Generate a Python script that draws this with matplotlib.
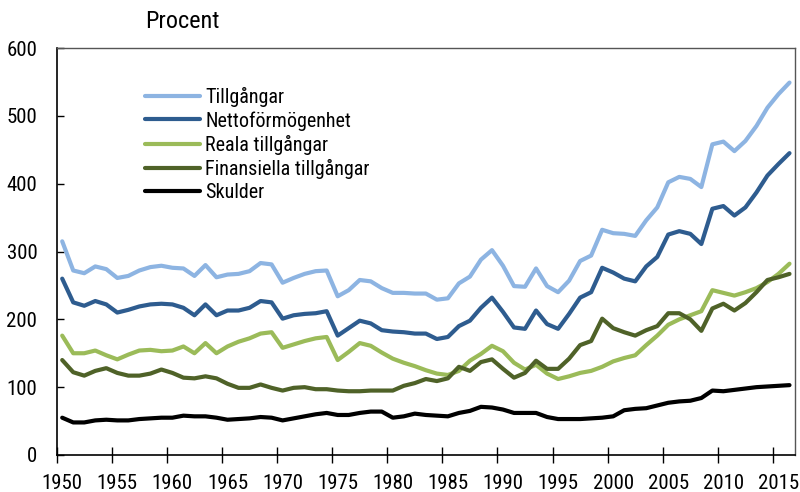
import matplotlib
matplotlib.use("Agg")
import matplotlib.pyplot as plt
import numpy as np

plt.rcParams['font.family'] = ['Roboto Condensed', 'DejaVu Sans']

years = list(range(1950, 2017))

tillgangar = [315, 272, 268, 278, 274, 261, 264, 272, 277, 279, 276, 275, 264, 280, 262, 266, 267, 271, 283, 281,
              254, 261, 267, 271, 272, 234, 243, 258, 256, 246, 239, 239, 238, 238, 229, 231, 253, 263, 288, 302,
              279, 249, 248, 275, 249, 240, 257, 286, 294, 332, 327, 326, 323, 346, 365, 402, 410, 407, 395, 458,
              462, 448, 463, 485, 512, 532, 549]
netto = [260, 225, 220, 227, 222, 210, 214, 219, 222, 223, 222, 217, 206, 222, 206, 213, 213, 217, 227, 225,
         201, 206, 208, 209, 212, 176, 187, 198, 194, 184, 182, 181, 179, 179, 171, 174, 190, 198, 217, 232,
         211, 188, 186, 213, 193, 186, 208, 232, 240, 276, 269, 260, 256, 278, 292, 325, 330, 326, 311, 363,
         367, 353, 365, 387, 412, 429, 445]
reala = [176, 150, 150, 154, 147, 141, 148, 154, 155, 153, 154, 160, 150, 165, 150, 160, 167, 172, 179, 181,
         158, 163, 168, 172, 174, 140, 152, 165, 161, 151, 142, 136, 131, 125, 120, 118, 124, 139, 149, 161,
         153, 136, 126, 133, 120, 112, 116, 121, 124, 130, 138, 143, 147, 162, 176, 192, 200, 206, 212, 243,
         239, 235, 240, 246, 255, 267, 282]
finansiella = [140, 122, 117, 124, 128, 121, 117, 117, 120, 126, 121, 114, 113, 116, 113, 105, 99, 99, 104, 99,
               95, 99, 100, 97, 97, 95, 94, 94, 95, 95, 95, 102, 106, 112, 109, 113, 130, 124, 137, 141,
               127, 114, 121, 139, 127, 127, 142, 162, 168, 201, 187, 181, 176, 184, 190, 209, 209, 200, 183, 216,
               223, 213, 224, 240, 258, 262, 267]
skulder = [55, 48, 48, 51, 52, 51, 51, 53, 54, 55, 55, 58, 57, 57, 55, 52, 53, 54, 56, 55,
           51, 54, 57, 60, 62, 59, 59, 62, 64, 64, 55, 57, 61, 59, 58, 57, 62, 65, 71, 70,
           67, 62, 62, 62, 56, 53, 53, 53, 54, 55, 57, 66, 68, 69, 73, 77, 79, 80, 84, 95,
           94, 96, 98, 100, 101, 102, 103]

labels = ["Tillgångar", "Nettoförmögenhet", "Reala tillgångar", "Finansiella tillgångar", "Skulder"]
colors = ["#8DB4E2", "#2E5C8F", "#9BBB59", "#4F6228", "#000000"]
series = [tillgangar, netto, reala, finansiella, skulder]

yticks = [0, 100, 200, 300, 400, 500, 600]
xlabels = list(range(1950, 2016, 5))

fig = plt.figure(figsize=(8, 4.92), dpi=100)
ax = fig.add_axes([56.7 / 800, 37 / 492, (795 - 56.7) / 800, (455 - 48) / 492])

for s, c, l in zip(series, colors, labels):
    ax.plot(years, s, color=c, lw=3.0, label=l, solid_capstyle='round', solid_joinstyle='round')

ax.set_xlim(1949.5, 2016.5)
ax.set_ylim(0, 600)

ax.set_yticks(yticks)
ax.tick_params(axis='y', direction='in', length=5, width=1, pad=14, labelsize=15)

ax.set_xticks([1949.5 + 5 * k for k in range(14)])
ax.set_xticklabels([])
ax.set_xticks(xlabels, minor=True)
ax.set_xticklabels([str(x) for x in xlabels], minor=True)
ax.tick_params(axis='x', which='major', direction='inout', length=12, width=1)
ax.tick_params(axis='x', which='minor', length=0, pad=14, labelsize=15)

for side in ['left', 'bottom']:
    ax.spines[side].set_color('black')
    ax.spines[side].set_linewidth(1.2)
for side in ['top', 'right']:
    ax.spines[side].set_color('#555555')
    ax.spines[side].set_linewidth(1.0)

leg = ax.legend(loc='upper left', bbox_to_anchor=((145 - 56.7) / 738.3, (455 - 87) / 407),
                frameon=False, fontsize=14.5, handlelength=2.75, handletextpad=0.25,
                labelspacing=0.2, borderpad=0, borderaxespad=0)

fig.text(145 / 800, 1 - 22 / 492, "Procent", fontsize=17.5, va='center', ha='left')

fig.savefig("out.png", dpi=100)
